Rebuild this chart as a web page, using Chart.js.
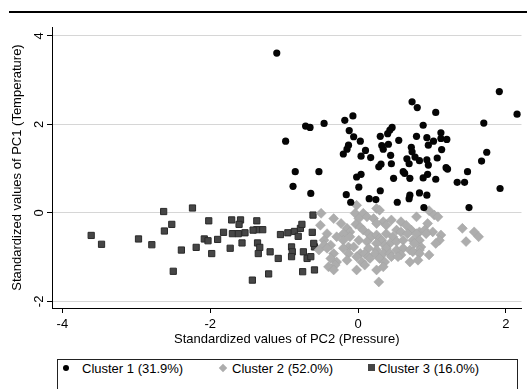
<!DOCTYPE html>
<html>
<head>
<meta charset="utf-8">
<script src="https://cdn.jsdelivr.net/npm/chart.js@4.4.1/dist/chart.umd.min.js"></script>
<style>
  body { margin: 0; background: #fff; font-family: "Liberation Sans", Arial, sans-serif; }
  #wrap { position: relative; width: 527px; height: 389px; overflow: hidden; background: #fff; }
  #topRule { position: absolute; left: 9px; top: 11px; width: 518px; height: 2px; background: #000; }
  #chart { position: absolute; left: 0; top: 0; }
  #legend { position: absolute; left: 57px; top: 359px; width: 461px; height: 50px; border: 1px solid #222; box-sizing: border-box; }
  .item { position: absolute; top: 1px; font-size: 13px; color: #000; line-height: 15px; }
  .mk { position: absolute; }
  .m1 { width: 6px; height: 6px; border-radius: 50%; background: #000; }
  .m2 { width: 6px; height: 6px; background: #adadad; transform: rotate(45deg); }
  .m3 { width: 7px; height: 7px; background: #454545; }
</style>
</head>
<body>
<div id="wrap">
  <div id="topRule"></div>
  <canvas id="chart" width="527" height="350"></canvas>
  <div id="legend"></div>
</div>
<script>
// ── 数据 ──
const xTicks = [-4, -2, 0, 2];
const yTicks = [-2, 0, 2, 4];

const legendLabels = ['Cluster 1 (31.9%)', 'Cluster 2 (52.0%)', 'Cluster 3 (16.0%)'];

const cluster1 = [
  [-1.10,3.61],[-0.71,1.96],[-0.65,1.93],[-0.46,2.02],[-0.98,1.62],[-0.18,2.09],[-0.07,2.19],[-0.12,1.86],
  [-0.06,1.72],[0.03,1.62],[-0.13,1.53],[-0.15,1.44],[-0.20,1.33],[0.10,1.41],[0.04,1.28],[0.17,1.25],
  [-0.85,0.93],[-0.53,0.93],[-0.88,0.60],[-0.64,0.44],[-0.02,0.81],[0.04,0.87],[0.01,0.58],[-0.16,0.41],
  [-0.10,0.24],[0.15,0.32],[0.24,0.30],
  [1.91,2.74],[2.15,2.23],[0.73,2.51],[0.80,2.38],[1.05,2.27],[1.70,2.03],[0.88,1.98],[0.46,1.93],
  [0.43,1.87],[0.40,1.79],[0.30,1.73],[0.55,1.64],[0.79,1.73],[0.93,1.70],[1.12,1.81],[1.12,1.68],
  [1.20,1.66],[1.02,1.62],[0.95,1.53],[0.32,1.52],[0.34,1.44],[0.41,1.55],[0.72,1.48],[1.13,1.43],
  [1.74,1.37],[0.44,1.30],[0.73,1.38],[0.77,1.26],[0.66,1.22],[0.83,1.18],[0.93,1.20],[1.07,1.24],
  [1.67,1.17],[0.45,1.11],[0.31,1.10],[0.28,1.04],[0.69,1.11],[0.95,1.08],[1.19,1.02],[1.21,0.99],
  [0.61,0.93],[0.63,0.89],[0.94,0.87],[0.88,0.79],[1.48,0.93],[0.48,0.78],[0.70,0.78],[1.05,0.76],
  [1.34,0.69],[1.44,0.69],[1.92,0.55],[0.30,0.50],[0.83,0.45],[0.93,0.40],[0.70,0.40],[0.69,0.32],
  [0.53,0.24],[0.89,0.12],[1.50,0.12]
];

const cluster2 = [
  [-0.02,0.17],[0.25,0.10],[0.29,0.06],[-0.50,-0.01],[-0.04,-0.01],[0.07,-0.01],[0.96,0.05],[1.03,-0.05],
  [1.08,-0.09],[0.12,-0.09],[-0.33,-0.13],[0.01,-0.13],[0.21,-0.13],[0.34,-0.20],[0.45,-0.16],[0.58,-0.20],
  [0.79,-0.09],[0.94,-0.24],[-0.51,-0.28],[-0.23,-0.24],[-0.03,-0.26],[0.25,-0.24],[0.38,-0.28],[0.65,-0.28],
  [-0.15,-0.35],[0.03,-0.32],[1.41,-0.35],[-0.11,-0.43],[0.07,-0.39],[0.14,-0.47],[0.52,-0.39],[0.58,-0.43],
  [0.72,-0.39],[0.83,-0.43],[0.90,-0.39],[1.01,-0.43],[1.57,-0.43],[-0.42,-0.47],[-0.20,-0.47],[0.38,-0.47],
  [0.67,-0.47],[0.79,-0.47],[0.92,-0.47],[0.18,-0.54],[0.25,-0.50],[0.47,-0.54],[1.12,-0.50],[1.63,-0.54],
  [-0.29,-0.54],[-0.11,-0.54],[0.29,-0.58],[-0.46,-0.62],[-0.20,-0.62],[0.01,-0.62],[0.12,-0.65],[0.32,-0.62],
  [0.43,-0.69],[0.52,-0.65],[0.61,-0.62],[0.74,-0.62],[0.83,-0.62],[1.10,-0.62],[1.46,-0.65],[1.05,-0.69],
  [0.76,-0.69],[0.25,-0.69],[-0.46,-0.73],[-0.37,-0.73],[-0.13,-0.77],[-0.06,-0.77],[0.36,-0.73],[0.14,-0.80],
  [0.85,-0.77],[-0.53,-0.84],[-0.42,-0.80],[-0.20,-0.80],[0.25,-0.84],[0.38,-0.80],[0.52,-0.84],[0.61,-0.80],
  [0.70,-0.84],[0.83,-0.84],[-0.33,-0.92],[-0.13,-0.92],[0.03,-0.92],[0.09,-0.92],[0.23,-0.92],[0.34,-0.92],
  [0.43,-0.92],[0.58,-0.95],[0.74,-0.88],[0.83,-0.92],[0.96,-0.95],[0.45,-0.99],[0.54,-0.99],[0.14,-0.99],
  [-0.02,-0.99],[-0.37,-1.03],[0.16,-1.03],[0.29,-1.03],[-0.29,-1.11],[-0.15,-1.07],[0.05,-1.11],[0.36,-1.11],
  [0.70,-1.11],[0.81,-1.07],[-0.31,-1.18],[-0.40,-1.22],[0.09,-1.18],[0.34,-1.22],[-0.33,-1.29],[-0.02,-1.29],
  [0.25,-1.29],[0.28,-1.56]
];

const cluster3 = [
  [-3.61,-0.51],[-3.47,-0.71],[-2.97,-0.59],[-2.79,-0.72],[-2.63,0.03],[-2.24,0.11],[-2.52,-0.26],[-2.62,-0.41],
  [-2.39,-0.84],[-2.50,-1.32],[-2.19,-0.78],[-2.02,-0.18],[-2.08,-0.59],[-2.03,-0.63],[-1.98,-0.92],[-1.90,-0.60],
  [-1.82,-0.44],[-1.71,-0.16],[-1.59,-0.16],[-1.61,-0.26],[-1.70,-0.47],[-1.62,-0.47],[-1.53,-0.45],[-1.73,-0.80],
  [-1.57,-0.68],[-1.43,-1.52],[-1.37,-0.18],[-1.37,-0.38],[-1.42,-0.39],[-1.29,-0.38],[-1.36,-0.68],[-1.33,-0.78],
  [-1.35,-0.92],[-1.19,-0.88],[-1.08,-1.03],[-1.21,-1.38],[-1.05,-0.49],[-0.95,-0.45],[-0.86,-0.42],[-0.78,-0.35],
  [-0.76,-0.26],[-0.81,-0.53],[-0.90,-0.77],[-0.89,-0.88],[-0.90,-0.99],[-0.74,-0.88],[-0.69,-1.03],[-0.64,-0.99],
  [-0.75,-1.33],[-0.61,-0.05],[-0.62,-0.44],[-0.59,-0.77],[-0.59,-1.29],[-0.60,-0.69]
];

const FONT = { family: '"Liberation Sans", Arial, sans-serif', size: 13 };
const toXY = arr => arr.map(p => ({ x: p[0], y: p[1] }));

// ── 图例 ──
const legendEl = document.getElementById('legend');
const legendPos = [
  { mk: 'm1', mx: 5, my: 5, tx: 24 },
  { mk: 'm2', mx: 162, my: 5, tx: 174 },
  { mk: 'm3', mx: 310, my: 4, tx: 320 },
];
legendEl.innerHTML = legendLabels.map((t, i) => `
  <div class="mk ${legendPos[i].mk}" style="left:${legendPos[i].mx}px;top:${legendPos[i].my}px"></div>
  <div class="item" style="left:${legendPos[i].tx}px">${t}</div>
`).join('');

// ── 散点图 ──
new Chart(document.getElementById('chart'), {
  type: 'scatter',
  data: {
    datasets: [
      {
        label: legendLabels[0],
        data: toXY(cluster1),
        pointStyle: 'circle',
        pointRadius: 3.6,
        backgroundColor: '#050505',
        borderWidth: 0,
      },
      {
        label: legendLabels[1],
        data: toXY(cluster2),
        pointStyle: 'rectRot',
        pointRadius: 5,
        backgroundColor: '#adadad',
        borderColor: '#a2a2a2',
        borderWidth: 0.5,
      },
      {
        label: legendLabels[2],
        data: toXY(cluster3),
        pointStyle: 'rect',
        pointRadius: 4.4,
        backgroundColor: '#464646',
        borderColor: '#2a2a2a',
        borderWidth: 1,
      },
    ],
  },
  options: {
    responsive: false,
    animation: false,
    devicePixelRatio: 1,
    layout: { padding: { top: 27, left: 0, right: 0, bottom: 0 } },
    plugins: { legend: { display: false }, tooltip: { enabled: false } },
    scales: {
      x: {
        type: 'linear',
        min: -4.14,
        max: 2.21,
        afterBuildTicks: s => { s.ticks = xTicks.map(v => ({ value: v })); },
        afterFit: s => { s.height = 42; },
        border: { display: true, color: '#000', width: 1 },
        grid: { drawOnChartArea: false, drawTicks: true, tickLength: 5, tickColor: '#000' },
        ticks: { font: FONT, color: '#000', padding: 4, maxRotation: 0 },
        title: { display: true, text: 'Standardized values of PC2 (Pressure)', font: FONT, color: '#000', padding: { top: 0, bottom: 3 } },
      },
      y: {
        type: 'linear',
        min: -2.15,
        max: 4.2,
        afterBuildTicks: s => { s.ticks = yTicks.map(v => ({ value: v })); },
        afterFit: s => { s.width = 52; },
        border: { display: true, color: '#000', width: 1 },
        grid: { color: '#d6d6d6', lineWidth: 1, drawTicks: true, tickLength: 5, tickColor: '#000' },
        ticks: { font: FONT, color: '#000', padding: 2, minRotation: 90, maxRotation: 90, crossAlign: 'center' },
        title: { display: true, text: 'Standardized values of PC1 (Temperature)', font: FONT, color: '#000', padding: { top: 10, bottom: 0 } },
      },
    },
  },
});
</script>
</body>
</html>
